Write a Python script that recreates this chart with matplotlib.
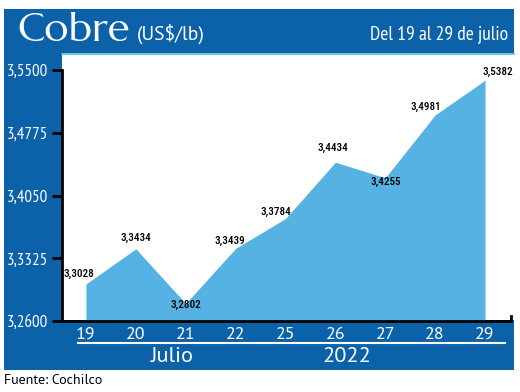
import matplotlib
matplotlib.use("Agg")
import matplotlib.pyplot as plt
from matplotlib.patches import Rectangle
from matplotlib.lines import Line2D

days = ["19", "20", "21", "22", "25", "26", "27", "28", "29"]
prices = [3.3028, 3.3434, 3.2802, 3.3439, 3.3784, 3.4434, 3.4255, 3.4981, 3.5382]
price_labels = ["3,3028", "3,3434", "3,2802", "3,3439", "3,3784", "3,4434", "3,4255", "3,4981", "3,5382"]
yticks = [3.2600, 3.3325, 3.4050, 3.4775, 3.5500]
ytick_labels = ["3,2600", "3,3325", "3,4050", "3,4775", "3,5500"]
title = "Cobre"
unit = "(US$/lb)"
period = "Del 19 al 29 de julio"
month = "Julio"
year = "2022"
source = "Fuente: Cochilco"

# label offsets in points (style)
label_offsets = [(-5, 7), (0, 8), (0, -1), (-4, 5), (-7, 5), (-2, 10), (0, -3), (-7, 6), (9, 6)]

NARROW = ["PT Sans Narrow", "DejaVu Sans"]
COND = ["Roboto Condensed", "DejaVu Sans"]
PTS = ["PT Sans", "DejaVu Sans"]
DARK = "#0b62a9"
FILL = "#55b2e3"

W, H = 520, 392
fig = plt.figure(figsize=(W / 100, H / 100), dpi=100)
fig.patch.set_facecolor("white")

def fx(px):
    return px / W

def fy(py):
    return 1 - py / H

# blue frame: header, left column, bottom band
fig.patches.append(Rectangle((fx(4), fy(53)), fx(514 - 4), 44 / H, transform=fig.transFigure,
                             facecolor=DARK, edgecolor="none", zorder=-2))
fig.patches.append(Rectangle((fx(4), fy(370)), fx(62 - 4), (370 - 53) / H, transform=fig.transFigure,
                             facecolor=DARK, edgecolor="none", zorder=-2))
fig.patches.append(Rectangle((fx(4), fy(370)), fx(514 - 4), (370 - 320) / H, transform=fig.transFigure,
                             facecolor=DARK, edgecolor="none", zorder=-2))
# thin light line under header
fig.lines.append(Line2D([fx(62), fx(514)], [fy(54), fy(54)], transform=fig.transFigure,
                        color=FILL, lw=1.2, zorder=-1))
# white separator line in bottom band
fig.lines.append(Line2D([fx(78), fx(505)], [fy(343), fy(343)], transform=fig.transFigure,
                        color="white", lw=1.5, zorder=3))

ax = fig.add_axes([fx(62), fy(321), fx(511 - 62), (321 - 70) / H])
ax.set_facecolor("none")
x = list(range(len(days)))
ax.fill_between(x, prices, 3.26, color=FILL, linewidth=0, zorder=1)
ax.set_xlim(-0.48, 8.52)
ax.set_ylim(3.26, 3.55)

for xi, p, lab, off in zip(x, prices, price_labels, label_offsets):
    ax.annotate(lab, (xi, p), xytext=off, textcoords="offset points", ha="center", va="center",
                fontsize=8, family=COND, color="black", fontweight="medium")

ax.set_yticks(yticks)
ax.set_yticklabels(ytick_labels, family=NARROW, fontsize=12.2, color="white")
ax.tick_params(axis="y", length=7, width=2, color="black", pad=3)
ax.set_xticks(x)
ax.set_xticklabels(days, family=PTS, fontsize=13, color="white")
ax.tick_params(axis="x", length=0, pad=4)
for s in ["top", "right"]:
    ax.spines[s].set_visible(False)
ax.spines["left"].set_linewidth(2)
ax.spines["bottom"].set_linewidth(2)
ax.plot([1, 1], [0, 0.02], transform=ax.transAxes, color="black", lw=2, clip_on=False)

# header texts
fig.text(fx(17), fy(32), title, fontsize=29, color="white", family=["Marcellus", "DejaVu Serif"],
         va="center", ha="left")
fig.text(fx(137), fy(34), unit, fontsize=14, color="white", family=PTS,
         va="center", ha="left")
fig.text(fx(508), fy(34), period, fontsize=14, color="white", family=NARROW,
         va="center", ha="right")

fig.text(fx(172), fy(357), month, fontsize=16, color="white", family=PTS,
         va="center", ha="center")
fig.text(fx(347), fy(357), year, fontsize=16, color="white", family=PTS,
         va="center", ha="center")
fig.text(fx(4), fy(381), source, fontsize=10, color="black", family=PTS,
         va="center", ha="left")

fig.savefig("out.png", dpi=100)
